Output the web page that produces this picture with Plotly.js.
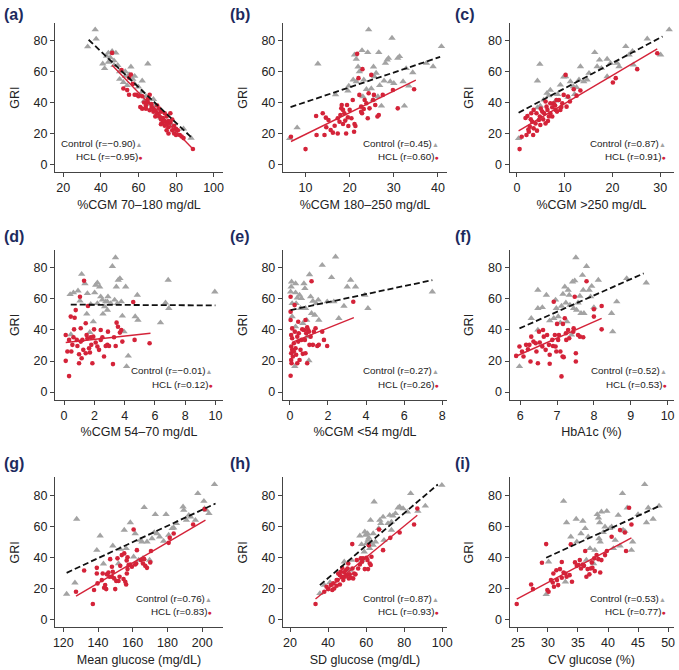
<!DOCTYPE html>
<html><head><meta charset="utf-8">
<script src="https://cdn.plot.ly/plotly-3.0.1.min.js"></script>
<style>html,body{margin:0;padding:0;background:#fff}#chart{width:679px;height:670px}</style>
</head><body><div id="chart"></div>
<script>
// ---------- DATA ----------
// (a) %CGM 70–180
const aCtrlX = [33,37,37.5,41,42,43,44,45,46,47,48,49,50,50,52,53,54,55,56,57,58,60,61,62,63,64,65,66,67,68,69,70,72,74,76,78,80,84,88,62,58,47,44,53];
const aCtrlY = [76,87,81,65,62,70,72,69,73,67,72,64,60,55,53,57,51,58,63,55,57,50,45,54,41,44,65,39,36,42,38,33,30,28,27,25,22,23,17,47,52,64,66,60];
const aHclX = [46,51,52,54,55,56,57,59,61,62,63,64,65,66,67,68,68,69,70,70,71,72,72,73,73,74,74,75,75,76,76,77,77,78,78,79,79,80,80,81,82,83,84,89,71,65,60,67,69,74,75,76,62,58,72,66,64,55];
const aHclY = [72,61,49,48,56,58,52,45,37,44,40,38,42,35,37,34,36,35,33,38,31,29,34,27,30,25,28,26,31,24,28,27,33,22,29,25,20,23,19,22,19,18,17,10,36,40,44,39,31,33,22,20,36,45,26,45,36,45];
const aCtrlFitX = [33.5,89], aCtrlFitY = [80.5,16.5], aHclFitX = [46,89], aHclFitY = [64,10];
// (b) %CGM 180–250
const bCtrlX = [6.4,8.1,12.8,16.8,19.6,21.1,21.5,21.9,22.2,22.8,23.2,23.8,24.1,24.3,24.9,25.4,25.6,26,26.6,26.8,27.2,27.8,28.1,28.5,28.8,29.2,29.6,30,30.9,31.3,32.1,32.4,32.8,33.4,34.3,37.4,38.9,40.8,21.5,23,20.8,19.8,25.3,26.4];
const bCtrlY = [16.8,23.7,65,45,47.5,70.8,68,63,60,73.6,54.6,48.5,72.3,87,49,63,56.7,59,72.3,51,37.8,54,65.4,67.5,68.6,53.5,81.6,52.4,68.6,69.7,53.5,37.8,62,50.7,59.3,65.4,63.2,76.2,53.5,43.8,54.6,50.7,41.6,43.8];
const bHclX = [6.7,10,12.4,12.5,13.9,14.3,14.6,14.7,15.2,15.7,16.2,16.6,17.3,17.7,17.9,18.1,18.2,18.5,18.8,19,19.2,19.4,19.6,19.7,20,20.4,20.7,21,21.1,21.3,21.7,22,22.2,22.6,22.8,22.9,23.2,23.4,23.8,24.1,24.3,24.5,24.9,25.3,25.5,25.8,26.3,26.6,27.5,29.8,30.9,34.6,17.3,18.5,22.6];
const bHclY = [17.9,9.9,31.3,19,33,19,30.2,24,28.7,22.2,20.5,25,29.8,27.6,31.9,36.2,38.4,26.1,33,28.3,20,38.4,30.4,24.8,35.2,29.8,41.6,21.1,26.1,24.8,71.4,55.7,44.9,37.3,33,61.5,35.8,41.6,39.5,29.8,46,36.2,57.8,41.6,44.9,38.4,30.9,31.9,44.9,48.1,36.2,48.5,20,35.2,34];
const bCtrlFitX = [6.6,40.5], bCtrlFitY = [37,69.4], bHclFitX = [6.7,35], bHclFitY = [14.8,54.4];
// (c) %CGM >250
const cCtrlX = [0.35,4.3,4.8,4.3,4.9,5.6,6.7,7,8.1,8.5,9.1,10.2,10.7,11.2,11.8,12.1,12.5,13,13.3,14,14.7,15.1,16.3,16.8,17.3,17.7,18.9,18.9,19.6,21,21.4,22.8,23.5,24.2,24.4,27.3,30.1,31.9,9.8,6.3];
const cCtrlY = [16.8,54,64.7,36.7,37.8,41.6,44.4,48,41,45.3,51.3,56.7,43.4,53.5,50.3,45.3,49.8,54.6,63.2,53.5,54.6,58.9,72.3,63.2,67.5,62.1,68,56.7,65.4,65.4,63.2,76.2,70.8,73,64.3,81.1,70.8,87,56.5,46];
const cHclX = [0.56,1,2,2.2,2.5,2.7,2.9,3.2,3.4,3.5,3.9,4.1,4.2,4.6,4.8,4.9,5.3,5.5,5.7,6,6.2,6.4,6.7,7,7.4,7.7,8.1,8.4,8.8,9.1,9.5,9.8,10.2,10.4,11.1,11.9,12.5,13.3,20.1,20.7,25.2,29.4,7,3.5,6,7.4,10.7,8.3,1.8,3,5,2.4,6.5,8,9.3];
const cHclY = [9.9,17.9,19,31.3,21.1,24.4,29.1,27.6,19,23.3,26.5,33,21.8,28.7,30.9,25.5,34.1,29.1,33,26.5,37.3,35.2,30.9,33,36.9,39.5,35.2,34.1,41.6,35.2,39.5,44.9,57.8,37.3,40.6,48.5,44.4,47.7,52.9,55.7,61.5,71.8,39.5,35.2,40.6,30.9,43.8,41.6,30,33,36,22.5,28,38,37];
const cCtrlFitX = [0.35,30.5], cCtrlFitY = [33.4,82.6], cHclFitX = [0.35,29.4], cHclFitY = [21.6,74.6];
// (d) %CGM 54–70
const dCtrlX = [0.4,0.62,0.92,1.16,1.05,1.38,1.76,1.93,2.02,2.09,2.2,2.35,2.53,2.57,2.75,2.86,2.9,3.08,3.4,3.19,3.34,3.45,3.52,3.58,3.69,3.78,3.85,3.96,4.07,4.13,4.24,4.7,4.84,4.88,6.37,6.7,6.88,6.92,9.96,1.5,1.54,2.42,2.68,2.2,2.86,1.7,0.45];
const dCtrlY = [62.9,64,65.2,75.9,58.8,69.9,56.5,45.3,64,68.9,70.4,67.8,59.3,50.3,58.2,52.8,61.4,57.1,86.6,81,59.3,67.8,57.1,72.1,73.2,58.2,49,38.9,67.8,16.5,23.3,48.6,62.5,46.4,44.7,57.5,72.1,53.9,64.6,50.3,63.5,61.4,55,57.1,58.2,38.5,37];
const dHclX = [0.11,0.11,0.22,0.33,0.33,0.44,0.48,0.55,0.62,0.66,0.7,0.77,0.84,0.88,0.99,0.99,1.05,1.1,1.16,1.21,1.27,1.32,1.43,1.49,1.54,1.58,1.65,1.71,1.76,1.8,1.87,1.93,1.98,2.09,2.2,2.31,2.42,2.53,2.64,2.75,2.86,2.9,2.97,3.23,3.3,3.41,3.47,3.56,3.69,3.78,3.85,4.57,4.66,5.65,1.1,1.43,2.42];
const dHclY = [36.8,20.1,26.1,33.6,10.3,48.6,26.1,30.4,35.3,40.4,47.9,52.8,33.6,29.7,24.4,18.6,61.4,41.1,21.8,33.6,27.2,71.7,44.3,36.8,34.7,55.4,28.2,25.5,35.3,30.4,18.6,35.7,40.4,31.9,29.3,27.2,33.6,35.3,22.9,29.7,30.4,38.9,29.7,18,35.3,29.7,44.7,42.1,38.3,40,32.5,58,33.6,31.4,32.5,25,40];
const dCtrlFitX = [0.44,10], dCtrlFitY = [56.3,55.8], dHclFitX = [0.11,5.71], dHclFitY = [31.9,37.9];
// (e) %CGM <54
const eCtrlX = [0.04,0.07,0.09,0.12,0.12,0.3,0.3,0.33,0.39,0.51,0.56,0.61,0.68,0.74,0.79,0.82,0.88,0.91,1,1.03,1.09,1.14,1.21,1.31,1.38,1.49,1.52,1.7,1.96,2.19,2.4,2.31,2.57,2.84,3.01,3.19,3.45,3.94,4.1,7.48,0.26,0.3];
const eCtrlY = [64.6,67.8,71,57.1,48.6,69.9,64,57.1,60.7,62.5,53.9,60.3,44.3,69.9,66.7,53.9,46.4,35.7,20.3,75.7,61.4,50.7,58.6,49.6,57.1,59.3,46.4,81.7,58.2,73.8,87.1,58.2,47.5,55.4,67.8,72.1,67.8,62.5,53.9,64.6,16.5,42.1];
const eHclX = [0.04,0.04,0.04,0.04,0.07,0.07,0.07,0.07,0.09,0.12,0.12,0.16,0.21,0.21,0.25,0.26,0.3,0.33,0.39,0.39,0.44,0.47,0.51,0.56,0.61,0.65,0.68,0.74,0.79,0.82,0.86,0.91,0.96,1,1.03,1.09,1.14,1.21,1.26,1.35,1.44,1.52,1.7,1.79,1.96,3.33,0.91,0.44,0.82,0.12];
const eHclY = [61.4,51.8,46.4,10.5,36.8,29.3,25,20.7,18.6,34.7,27.2,22.9,31.4,26.1,56,38.9,28.2,24,35.7,18.6,32.5,37.9,20.7,27.2,33.6,40.4,24.6,40,33.6,46.4,37.9,41.7,40,38.9,30.4,35.7,71.4,30.4,38.9,41.1,29.7,30.4,38.9,33.6,29.7,58.2,18.6,45.3,25,41];
const eCtrlFitX = [0.04,7.48], eCtrlFitY = [52.8,72.1], eHclFitX = [0.21,3.36], eHclFitY = [32.5,47.9];
// (f) HbA1c
const fCtrlX = [5.98,6.48,6.48,6.48,6.71,6.8,6.91,6.96,6.98,7.09,7.12,7.16,7.21,7.24,7.27,7.3,7.33,7.35,7.39,7.42,7.45,7.48,7.51,7.53,7.57,7.62,7.65,7.69,7.71,7.73,7.8,7.87,7.91,7.94,8,8.12,8.48,8.51,8.62,8.89,9.42,6.6,6.3,7.03];
const fCtrlY = [16.5,65.7,53.9,40,62.5,46,47.5,59.3,53.9,44.7,55.4,63.1,67.8,57.5,45.3,65.7,62.5,56,36.8,71,53.9,71.7,86.6,52.8,57.5,61.8,50.7,75.3,65.7,50.7,81,65.7,61.4,68.2,54.5,72.1,50.7,38.9,58.2,73.2,70.4,54.5,47.5,48.6];
const fHclX = [5.89,5.98,6.05,6.09,6.16,6.21,6.25,6.28,6.3,6.36,6.42,6.48,6.51,6.53,6.6,6.64,6.69,6.73,6.78,6.8,6.8,6.87,6.89,6.91,6.94,6.96,6.98,7,7.03,7.05,7.09,7.12,7.15,7.16,7.21,7.24,7.25,7.3,7.45,7.48,7.51,7.51,7.57,7.62,7.71,7.8,8,8,8.21,8.21,7.18,7.33,7.44,6.62,6.44];
const fHclY = [23.3,29.3,26.1,22.9,30.4,27.6,30.4,19.7,35.7,32.5,31.4,18.6,38.9,31.9,29.3,35.7,27.2,36.8,30.4,24,18.2,33.6,29.7,58.2,36.8,29.3,26.1,43.9,33.6,36.8,26.1,10.1,22.9,43.9,47.5,37.9,33.6,40,41.1,61.4,25,19.7,36.8,35.7,35.3,71.4,53.3,48.6,55.4,40.4,22.5,34.7,38.9,40,26.1];
const fCtrlFitX = [5.98,9.35], fCtrlFitY = [41,76.4], fHclFitX = [5.87,8.21], fHclFitY = [22.9,47.5];
// (g) Mean glucose
const gCtrlX = [121.9,126.7,127.7,139.3,141.2,143.1,148.5,151.8,152.8,155.1,156.2,158.6,160.5,161.4,163.4,164.3,165.3,165.9,166.6,168.2,169.7,171.1,172.4,173,175.5,177.8,179.2,180.7,182.7,183.6,185.2,189,189.4,190.9,192.3,193.3,196.1,197.5,201,201.4,202.5,203.9,207.1,174];
const gCtrlY = [16.3,23.6,64.6,44.6,53.8,35.8,47.4,36,45.3,57.5,45.7,62.4,40.3,55.3,38.2,51,50,39.3,72.1,50,38.2,52.1,56,67.6,53.2,50.4,67.6,54.3,58.6,59,61.8,72.5,70.3,63.9,67.1,66.1,63.9,81.1,76.1,71.4,70.3,68.2,86.9,55.3];
const gHclX = [127.3,132,137,137.7,139.3,139.3,139.7,142.2,142.7,143.5,144.1,144.7,145.1,146,146.6,147,148,148.5,149.3,149.9,150.5,151.2,151.8,152.4,152.8,153.7,154.7,155.1,155.7,156.2,156.6,157,157.6,158.6,159.5,160.5,161.4,162.4,164.7,165.9,166.6,167.2,168.2,170.1,170.5,180.7,181.3,183.6,194.8,201.4,148,157,156.5,162];
const gHclY = [17.8,31.5,9.9,18.9,33.2,29.6,23.2,25.3,29.6,20.4,22.1,19.5,29,30.2,27.5,38.8,27.5,30.7,26.4,19.5,24.7,39.3,24.7,27.5,34.5,41.4,26,42.5,24.2,22.5,29.6,32.4,35,35.4,33.9,57.9,35.4,44.6,38.2,36,38.8,34.5,33.2,36.7,44,49.3,52.5,55.3,61.1,71,33.9,40,38,36];
const gCtrlFitX = [121.9,207.7], gCtrlFitY = [30,74.6], gHclFitX = [127.3,201.9], gHclFitY = [15,63.9];
// (h) SD glucose
const hCtrlX = [35.7,38,41,48.5,51.4,52.3,56.7,57.6,59,59.7,60.2,60.7,61.4,61.9,62.3,62.8,63.7,63.7,64.2,64.9,66.6,67.2,67.7,68.9,69.4,71.5,72.4,73.3,74.1,75.4,76.8,77.6,79.4,81.7,83.4,87.2,91.1,99.8,57.9,61,59.3,73.3];
const hCtrlY = [16.7,22.1,23.8,37.1,31.7,38.2,53.8,48.3,43.5,54.3,48.9,55.3,52.5,45.7,63.9,49.5,55.3,47.8,75.7,50,58.6,63.9,61.8,66,51,61.8,67.1,62.8,66.7,68.2,71.9,72.5,71.4,69.3,81.1,69.7,73.1,86.4,38.2,51,56.4,57.5];
const hHclX = [33.4,38,40.1,41.5,42.2,42.7,43.2,44.5,45,45.3,46.2,46.7,47.1,47.4,48,48.5,48.8,49.2,49.7,50.2,50.6,50.9,51.4,51.9,52.7,52.8,53.2,53.7,54.4,55.1,55.8,56.7,57.2,57.9,58.4,59.3,60.2,60.7,61,61.4,61.9,62.4,62.8,66.8,68.9,72.7,77.6,85.2,86.9,46.2,39.2,44.5];
const hHclY = [9.9,17.8,19.5,22.1,18.9,23.2,19.9,21.7,25.3,29.6,28.5,30.7,27.5,33.2,25.3,30.2,27.5,31.7,28.5,32.8,36,26.4,29,26.8,48.5,32.8,26.4,29.6,29,38.2,32.8,35.4,39.3,37.1,39.3,32.4,39.7,38.2,32.4,47.8,36,35,40.3,57.9,44.6,52.5,56,61.1,71.4,22.5,21,25.3];
const hCtrlFitX = [35.7,97.7], hCtrlFitY = [22.1,86.9], hHclFitX = [33.4,86.9], hHclFitY = [13.1,67.1];
// (i) CV glucose
const iCtrlX = [29.7,30.1,32.6,32.9,33.1,33.8,34.7,34.8,35.5,35.8,36.2,36.4,36.7,37,37.6,37.8,38.2,38.4,38.5,38.6,38.7,38.9,39.2,39.5,39.8,40.3,40.6,40.9,41.2,41.7,42,42.4,42.5,42.8,43.2,43.9,44.1,45,46.1,46.4,46.7,47.5,48.5];
const iCtrlY = [16.1,37.1,76.1,24.2,62.4,53.2,64.6,50,55.3,63.3,58.6,38.2,53.2,45.7,36,44.6,67.6,65.4,52.1,62.4,50,69.3,56,59.6,69.7,58.6,59.6,45.7,51,67.1,47.4,81.1,57.5,56.8,71.9,44.6,50,67.6,86.9,62.4,71.9,64.6,73.1];
const iHclX = [24.8,27.2,27.5,29,29.7,29.9,30.1,30.5,30.8,30.9,31,31.4,31.5,31.7,32,32.3,32.6,32.9,33.1,33.6,33.8,34,34.5,34.8,35.1,35.3,35.5,35.8,36,36.2,36.4,36.6,36.9,37.1,37.3,37.4,37.7,37.8,38.1,38.4,38.7,38.9,39.5,39.8,40.6,42,42.8,43,43.5,43.9,32.3];
const iHclY = [9.9,22.5,19.5,36.5,48.5,18.9,17.8,25.3,23.8,29.6,21,31.7,25.3,22.1,32.4,26.8,30.2,29.6,27.5,28.5,48.3,24.2,36.7,34.5,35,38.2,32.8,35.4,34.5,44,27.5,32.4,29,32.8,36.7,33.2,39.3,31.1,41.4,38.8,30.2,38.2,41.4,44,53.2,57.5,56,44,71.9,61.1,37];
const iCtrlFitX = [29.7,48.6], iCtrlFitY = [39.7,73.1], iHclFitX = [24.8,43.9], iHclFitY = [13.1,52.5];

// labels and ticks
const panelLetters = ['(a)','(b)','(c)','(d)','(e)','(f)','(g)','(h)','(i)'];
const xTitles = ['%CGM 70–180 mg/dL','%CGM 180–250 mg/dL','%CGM &gt;250 mg/dL','%CGM 54–70 mg/dL','%CGM &lt;54 mg/dL','HbA1c (%)','Mean glucose (mg/dL)','SD glucose (mg/dL)','CV glucose (%)'];
const xTicks = [[20,40,60,80,100],[10,20,30,40],[0,10,20,30],[0,2,4,6,8,10],[0,2,4,6,8],[6,7,8,9,10],[120,140,160,180,200],[20,40,60,80,100],[25,30,35,40,45,50]];
const yTicks = [0,20,40,60,80];
const ctrlR = ['−0.90','0.45','0.87','−0.01','0.27','0.52','0.76','0.87','0.53'];
const hclR  = ['−0.95','0.60','0.91','0.12','0.26','0.53','0.83','0.93','0.77'];

// ---------- LAYOUT / STYLE ----------
const xRanges = [[15.6,105],[4.85,42.1],[-1.55,32.8],[-0.6,10.5],[-0.37,8.26],[5.71,10.16],[115.2,212],[16.2,102.6],[23.6,50.9]];
const yRange = [-5.1,91.5];
const colDom = [[0.0810,0.3284],[0.4165,0.6586],[0.7504,0.9919]];
const rowDom = [[0.7428,0.9661],[0.403,0.6269],[0.0637,0.2876]];
const legX = [0.535,0.965,0.966,0.951,0.965,0.972,0.947,0.965,0.966];
const FONT = 'Liberation Sans, Arial, Helvetica, sans-serif';
const GREY = '#a3a3a3', RED = '#d42339', NAVY = '#1d2b5e';

const panels = [
  [aCtrlX,aCtrlY,aHclX,aHclY,aCtrlFitX,aCtrlFitY,aHclFitX,aHclFitY],
  [bCtrlX,bCtrlY,bHclX,bHclY,bCtrlFitX,bCtrlFitY,bHclFitX,bHclFitY],
  [cCtrlX,cCtrlY,cHclX,cHclY,cCtrlFitX,cCtrlFitY,cHclFitX,cHclFitY],
  [dCtrlX,dCtrlY,dHclX,dHclY,dCtrlFitX,dCtrlFitY,dHclFitX,dHclFitY],
  [eCtrlX,eCtrlY,eHclX,eHclY,eCtrlFitX,eCtrlFitY,eHclFitX,eHclFitY],
  [fCtrlX,fCtrlY,fHclX,fHclY,fCtrlFitX,fCtrlFitY,fHclFitX,fHclFitY],
  [gCtrlX,gCtrlY,gHclX,gHclY,gCtrlFitX,gCtrlFitY,gHclFitX,gHclFitY],
  [hCtrlX,hCtrlY,hHclX,hHclY,hCtrlFitX,hCtrlFitY,hHclFitX,hHclFitY],
  [iCtrlX,iCtrlY,iHclX,iHclY,iCtrlFitX,iCtrlFitY,iHclFitX,iHclFitY]
];

const traces = [];
const layout = {
  width: 679, height: 670,
  margin: {l:0, r:0, t:0, b:0},
  paper_bgcolor: '#fff', plot_bgcolor: '#fff',
  showlegend: false,
  font: {family: FONT, size: 12, color: '#222'},
  annotations: []
};
const labelX = [0.003, 0.336, 0.667];
const labelY = [1 - 15/670, 1 - 237/670, 1 - 463/670];

panels.forEach((p, k) => {
  const n = k + 1;
  const xs = n === 1 ? 'x' : 'x' + n, ys = n === 1 ? 'y' : 'y' + n;
  const col = k % 3, row = Math.floor(k / 3);
  const [cx, cy, hx, hy, cfx, cfy, hfx, hfy] = p;
  traces.push({type:'scatter', mode:'markers', x:cx, y:cy, xaxis:xs, yaxis:ys, name:'Control',
    marker:{symbol:'triangle-up', size:6.5, color:GREY}, hoverinfo:'skip'});
  traces.push({type:'scatter', mode:'markers', x:hx, y:hy, xaxis:xs, yaxis:ys, name:'HCL',
    marker:{symbol:'circle', size:4.6, color:RED}, hoverinfo:'skip'});
  traces.push({type:'scatter', mode:'lines', x:cfx, y:cfy, xaxis:xs, yaxis:ys,
    line:{color:'#111', width:1.8, dash:'6px,3px'}, hoverinfo:'skip'});
  traces.push({type:'scatter', mode:'lines', x:hfx, y:hfy, xaxis:xs, yaxis:ys,
    line:{color:RED, width:1.4}, hoverinfo:'skip'});

  const common = {showline:true, linecolor:'#444', linewidth:1, ticks:'outside', ticklen:4,
    tickwidth:1, tickcolor:'#444', showgrid:false, zeroline:false, fixedrange:true,
    tickfont:{family:FONT, size:12.5, color:'#222'}};
  layout['xaxis' + (n===1?'':n)] = Object.assign({}, common, {
    domain: colDom[col], anchor: ys, range: xRanges[k], tickvals: xTicks[k],
    title:{text:xTitles[k], font:{family:FONT, size:12.5, color:'#222'}, standoff:5}});
  layout['yaxis' + (n===1?'':n)] = Object.assign({}, common, {
    domain: rowDom[row], anchor: xs, range: yRange, tickvals: yTicks,
    title:{text:'GRI', font:{family:FONT, size:12.5, color:'#222'}, standoff:11}});

  layout.annotations.push({xref:'paper', yref:'paper', x:labelX[col], y:labelY[row],
    xanchor:'left', yanchor:'middle', showarrow:false, text:'<b>' + panelLetters[k] + '</b>',
    font:{family:FONT, size:16, color:NAVY}});
  layout.annotations.push({xref: xs + ' domain', yref: ys + ' domain', x: legX[k], y: 0.195,
    xanchor:'right', yanchor:'middle', showarrow:false,
    text:'Control (r=' + ctrlR[k] + ')<span style="color:' + GREY + ';font-size:7px">▲</span>',
    font:{family:FONT, size:9.8, color:'#222'}});
  layout.annotations.push({xref: xs + ' domain', yref: ys + ' domain', x: legX[k], y: 0.103,
    xanchor:'right', yanchor:'middle', showarrow:false,
    text:'HCL (r=' + hclR[k] + ')<span style="color:' + RED + ';font-size:7px">●</span>',
    font:{family:FONT, size:9.8, color:'#222'}});
});

Plotly.newPlot('chart', traces, layout, {staticPlot:true, displayModeBar:false});
</script>
</body></html>
